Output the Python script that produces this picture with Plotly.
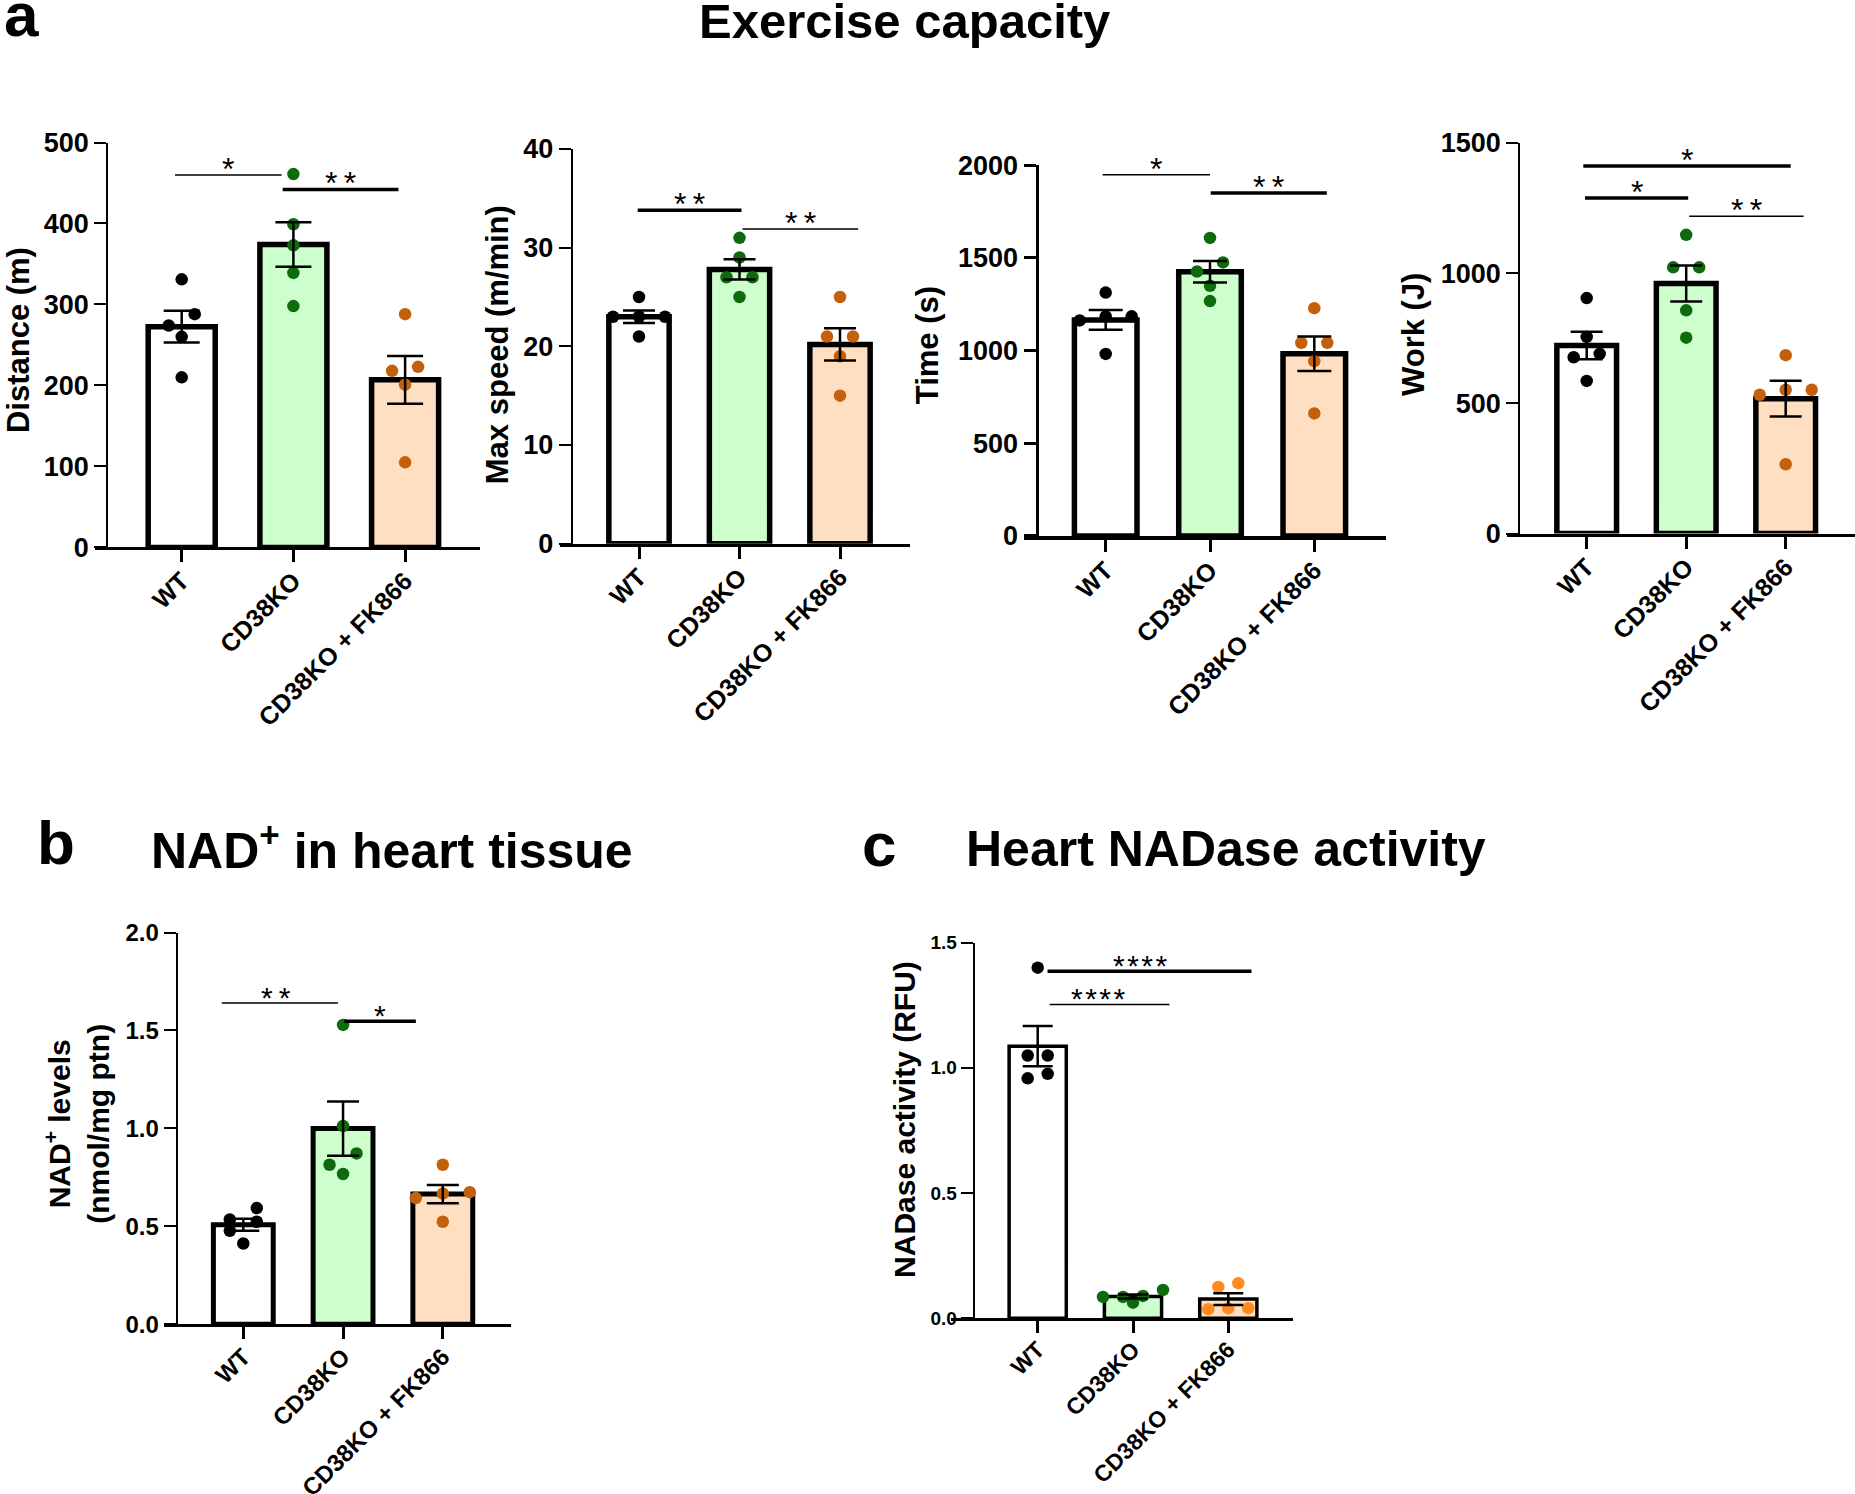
import numpy as np
import plotly.graph_objects as go

# ---------------- data ----------------
CATEGORIES = ["WT", "CD38KO", "CD38KO + FK866"]

DIST_WT = [331, 288, 274, 260, 210]
DIST_KO = [461, 399, 373, 339, 298]
DIST_FK = [288, 223, 218, 201, 105]

SPEED_WT = [25, 23, 23, 23, 21]
SPEED_KO = [31, 29, 27, 27, 25]
SPEED_FK = [25, 21, 21, 19, 15]

TIME_WT = [1313, 1185, 1185, 1163, 982]
TIME_KO = [1608, 1476, 1427, 1350, 1267]
TIME_FK = [1229, 1042, 1042, 943, 661]

WORK_WT = [904, 755, 690, 677, 586]
WORK_KO = [1147, 1022, 1022, 857, 752]
WORK_FK = [685, 552, 552, 533, 266]

NAD_WT = [0.593, 0.535, 0.523, 0.477, 0.412]
NAD_KO = [1.528, 1.012, 0.872, 0.814, 0.767]
NAD_FK = [0.814, 0.674, 0.667, 0.644, 0.523]

NADASE_WT = [1.400, 1.049, 1.049, 0.976, 0.958]
NADASE_KO = [0.113, 0.089, 0.085, 0.085, 0.062]
NADASE_FK = [0.140, 0.125, 0.040, 0.040, 0.036]

# significance brackets: (from, to, height, label, thick, label centre or None)
DIST_SIG = [(-0.06, 0.895, 460, "*", False, None), (0.904, 1.94, 442, "**", True, None)]
SPEED_SIG = [(-0.013, 1.02, 33.8, "**", True, None), (1.03, 2.18, 31.9, "**", False, None)]
TIME_SIG = [(-0.029, 1.0, 1949, "*", False, None), (1.007, 2.12, 1850, "**", True, None)]
WORK_SIG = [(-0.034, 2.05, 1411, "*", True, None), (-0.017, 1.02, 1288, "*", True, None),
            (1.03, 2.18, 1218, "**", False, None)]
NAD_SIG = [(-0.216, 0.949, 1.64, "**", False, 0.33), (1.012, 1.73, 1.547, "*", True, None)]
NADASE_SIG = [(0.103, 2.243, 1.386, "****", True, 1.08),
              (0.126, 1.382, 1.253, "****", False, 0.64)]

# ---------------- styling ----------------
W, H = 1855, 1494
FONT = "Liberation Sans, Arial, Helvetica, sans-serif"
FILLS = ["#ffffff", "#ccffcc", "#ffdfc2"]
DOTS_AB = ["#000000", "#0d6b0d", "#c4600c"]
DOTS_C = ["#000000", "#0d6b0d", "#ff8a1e"]


def X(px):
    return px / W


def Y(py):
    return 1 - py / H


def swarm(vals, px_per_unit, px_per_cat, diam, spacing):
    order = sorted(range(len(vals)), key=lambda i: -vals[i])
    bins = []
    for i in order:
        if bins and (vals[bins[-1][0]] - vals[i]) * px_per_unit < diam:
            bins[-1].append(i)
        else:
            bins.append([i])
    offs = [0.0] * len(vals)
    for b in bins:
        n = len(b)
        for k, i in enumerate(b):
            offs[i] = ((n - 1) / 2 - k) * spacing / px_per_cat
    return offs


PANELS = [
    dict(groups=[DIST_WT, DIST_KO, DIST_FK], sig=DIST_SIG, xdom=(95, 480), ypos=107.3,
         ypx=(547.4, 142.5), ymax=500, dtick=100, fmt="d", tick0=181.7, cat=111.7,
         tickfs=27, catfs=25, bw=5.5, ylw=2.2, xlw=3, cap=18, dots=DOTS_AB, spacing=26,
         starfs=32, sep="\u2009", ms=12.5),
    dict(groups=[SPEED_WT, SPEED_KO, SPEED_FK], sig=SPEED_SIG, xdom=(560, 910), ypos=571.7,
         ypx=(543.7, 149.0), ymax=40, dtick=10, fmt="d", tick0=639, cat=100.5,
         tickfs=27, catfs=25, bw=5.5, ylw=2.2, xlw=3, cap=16, dots=DOTS_AB, spacing=26,
         starfs=32, sep="\u2009", ms=12.5),
    dict(groups=[TIME_WT, TIME_KO, TIME_FK], sig=TIME_SIG, xdom=(1024, 1386), ypos=1036.7,
         ypx=(535.9, 165.3), ymax=2000, dtick=500, fmt="d", tick0=1105.7, cat=104.3,
         tickfs=27, catfs=25, bw=5.5, ylw=3.3, xlw=4, cap=17, dots=DOTS_AB, spacing=26,
         starfs=32, sep="\u2009", ms=12.5),
    dict(groups=[WORK_WT, WORK_KO, WORK_FK], sig=WORK_SIG, xdom=(1506.7, 1855), ypos=1519.3,
         ypx=(533.5, 142.9), ymax=1500, dtick=500, fmt="d", tick0=1586.7, cat=99.5,
         tickfs=27, catfs=25, bw=5.5, ylw=2.2, xlw=3.3, cap=16, dots=DOTS_AB, spacing=26,
         starfs=32, sep="\u2009", ms=12.5),
    dict(groups=[NAD_WT, NAD_KO, NAD_FK], sig=NAD_SIG, xdom=(164.1, 511.4), ypos=176.8,
         ypx=(1324.2, 932.5), ymax=2.0, dtick=0.5, fmt=".1f", tick0=243.3, cat=99.75,
         tickfs=24, catfs=24, bw=5, ylw=2.2, xlw=3.3, cap=16, dots=DOTS_AB, spacing=27,
         starfs=30, sep="\u2009", ms=12.5),
    dict(groups=[NADASE_WT, NADASE_KO, NADASE_FK], sig=NADASE_SIG, xdom=(950.6, 1293),
         ypos=973.8, ypx=(1318.2, 942.6), ymax=1.5, dtick=0.5, fmt=".1f", tick0=1037.7,
         cat=95.3, tickfs=19, catfs=23, bw=3.5, ylw=2.2, xlw=2.6, cap=15, dots=DOTS_C,
         spacing=20, starfs=30, sep="\u200a", ms=12.5),
]

fig = go.Figure()
shapes = []
annotations = []
layout = {}

for idx, p in enumerate(PANELS, start=1):
    xn = "x" if idx == 1 else f"x{idx}"
    yn = "y" if idx == 1 else f"y{idx}"
    xkey = "xaxis" if idx == 1 else f"xaxis{idx}"
    ykey = "yaxis" if idx == 1 else f"yaxis{idx}"
    r0 = (p["xdom"][0] - p["tick0"]) / p["cat"]
    r1 = (p["xdom"][1] - p["tick0"]) / p["cat"]
    px_per_unit = (p["ypx"][0] - p["ypx"][1]) / p["ymax"]

    means = [float(np.mean(g)) for g in p["groups"]]
    sems = [float(np.std(g, ddof=1) / np.sqrt(len(g))) for g in p["groups"]]

    fig.add_trace(go.Bar(
        x=[0, 1, 2], y=means, width=0.6, xaxis=xn, yaxis=yn,
        marker=dict(color=FILLS, line=dict(color="black", width=p["bw"])),
        showlegend=False, hoverinfo="skip"))

    for k, g in enumerate(p["groups"]):
        offs = swarm(g, px_per_unit, p["cat"], 12, p["spacing"])
        fig.add_trace(go.Scatter(
            x=[k + o for o in offs], y=g, mode="markers", xaxis=xn, yaxis=yn,
            marker=dict(size=p["ms"], color=p["dots"][k], line=dict(width=0)),
            cliponaxis=False, showlegend=False, hoverinfo="skip"))

    fig.add_trace(go.Scatter(
        x=[0, 1, 2], y=means, mode="markers", xaxis=xn, yaxis=yn,
        marker=dict(size=1, color="rgba(0,0,0,0)"),
        error_y=dict(type="data", array=sems, visible=True, color="black",
                     thickness=2.5, width=p["cap"]),
        cliponaxis=False, showlegend=False, hoverinfo="skip"))

    for (a, b, yv, lab, thick, lx) in p["sig"]:
        shapes.append(dict(type="line", xref=xn, yref=yn, x0=a, x1=b, y0=yv, y1=yv,
                           line=dict(color="black", width=3.5 if thick else 1.5)))
        annotations.append(dict(
            xref=xn, yref=yn, x=(a + b) / 2 if lx is None else lx, y=yv,
            text=p["sep"].join(lab),
            showarrow=False, xanchor="center", yanchor="middle", yshift=6,
            font=dict(family=FONT, size=p["starfs"], color="black")))

    layout[xkey] = dict(
        domain=[X(p["xdom"][0]), X(p["xdom"][1])], range=[r0, r1], anchor=yn,
        showline=True, linecolor="black", linewidth=p["xlw"], ticks="outside",
        ticklen=12, tickwidth=3, tickcolor="black", tickvals=[0, 1, 2],
        ticktext=CATEGORIES, tickangle=-45, showgrid=False, zeroline=False,
        automargin=False, ticklabelstandoff=-6,
        tickfont=dict(family=FONT, size=p["catfs"], color="black", weight="bold"))
    layout[ykey] = dict(
        domain=[Y(p["ypx"][0]), Y(p["ypx"][1])], range=[0, p["ymax"]], anchor="free",
        position=X(p["ypos"]), showline=True, linecolor="black", linewidth=p["ylw"],
        ticks="outside", ticklen=12, tickwidth=p["ylw"], tickcolor="black",
        tick0=0, dtick=p["dtick"], tickformat=p["fmt"], showgrid=False, zeroline=False,
        automargin=False,
        tickfont=dict(family=FONT, size=p["tickfs"], color="black", weight="bold"))


def label(text, x, y, size, xanchor="center", angle=0):
    annotations.append(dict(
        xref="paper", yref="paper", x=X(x), y=Y(y), text=text, showarrow=False,
        xanchor=xanchor, yanchor="middle", textangle=angle,
        font=dict(family=FONT, size=size, color="black", weight="bold")))


# panel letters and titles (middle = baseline - 0.35 em)
label("a", 2, 36 - 0.35 * 62, 62, "left")
label("Exercise capacity", 904, 38 - 0.35 * 49, 49)
label("b", 35, 864 - 0.35 * 62, 62, "left")
label("NAD<sup>+</sup> in heart tissue", 149, 864 - 0.35 * 50, 50, "left")
label("c", 860, 866.5 - 0.35 * 62, 62, "left")
label("Heart NADase activity", 964, 866.5 - 0.35 * 50, 50, "left")

# y-axis titles
label("Distance (m)", 18.3, 339.8, 31, angle=-90)
label("Max speed (m/min)", 498.3, 344.9, 31, angle=-90)
label("Time (s)", 928.3, 344.9, 31, angle=-90)
label("Work (J)", 1413.3, 334.7, 31, angle=-90)
label("NAD<sup>+</sup> levels<br>(nmol/mg ptn)", 76.8, 1124, 30, angle=-90)
label("NADase activity (RFU)", 904.6, 1119.3, 30, angle=-90)

fig.update_layout(
    width=W, height=H, margin=dict(l=0, r=0, t=0, b=0, pad=0, autoexpand=False),
    paper_bgcolor="white", plot_bgcolor="rgba(0,0,0,0)",
    showlegend=False, barmode="overlay", shapes=shapes, annotations=annotations,
    font=dict(family=FONT, color="black"), **layout)

fig.write_html("out.html", config={"displayModeBar": False},
               post_script="document.body.style.margin='0';document.body.style.overflow='hidden';")
